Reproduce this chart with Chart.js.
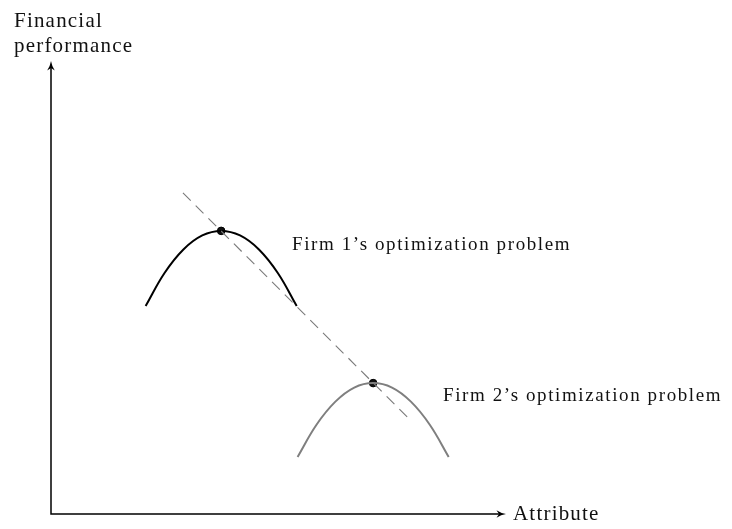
<!DOCTYPE html>
<html lang="en">
<head>
    <meta charset="UTF-8">
    <title>Firm optimization</title>
    <script src="https://cdn.jsdelivr.net/npm/chart.js@4.4.1/dist/chart.umd.min.js"></script>
    <style>
        html, body { margin: 0; padding: 0; background: #fff; }
        #wrap { width: 732px; height: 529px; }
    </style>
</head>
<body>
    <div id="wrap"><canvas id="myCanvas"></canvas></div>

    <script>
        // firm 1 curve (black)
        const firm1X = [20.8, 24.95, 29.1, 33.25, 37.4, 41.55, 45.7, 49.85, 54.0];
        const firm1Y = [45.9, 53.2, 58.4, 61.5, 62.5, 61.5, 58.4, 53.2, 45.9];
        // firm 2 curve (grey)
        const firm2X = [54.2, 58.35, 62.5, 66.65, 70.8, 74.95, 79.1, 83.25, 87.4];
        const firm2Y = [12.6, 19.7, 24.8, 27.9, 28.9, 27.9, 24.8, 19.7, 12.6];
        // dashed line through both optima
        const lineX = [29.0, 78.9];
        const lineY = [70.9, 20.8];
        // optimum points
        const optX = [37.4, 70.8];
        const optY = [62.5, 28.9];

        const labels = ['Financial', 'performance', 'Attribute',
                        'Firm 1\u2019s optimization problem', 'Firm 2\u2019s optimization problem'];

        const toPts = (xs, ys) => xs.map((x, i) => ({ x: x, y: ys[i] }));

        function arrowHead(c, x, y, dir) {
            // dir: 'up' or 'right'
            c.save();
            c.translate(x, y);
            if (dir === 'right') c.rotate(Math.PI / 2);
            c.beginPath();
            c.moveTo(0, 0);
            c.quadraticCurveTo(-0.8, 5, -3.8, 9.5);
            c.lineTo(0, 7);
            c.lineTo(3.8, 9.5);
            c.quadraticCurveTo(0.8, 5, 0, 0);
            c.closePath();
            c.fillStyle = '#000';
            c.fill();
            c.restore();
        }

        const axesPlugin = {
            id: 'axesPlugin',
            beforeDatasetsDraw(chart) {
                const c = chart.ctx;
                const xs = chart.scales.x, ys = chart.scales.y;
                const x0 = xs.getPixelForValue(0), x1 = xs.getPixelForValue(100);
                const y0 = ys.getPixelForValue(0), y1 = ys.getPixelForValue(100);
                c.save();
                c.strokeStyle = '#000';
                c.lineWidth = 1.5;
                c.beginPath();
                c.moveTo(x0, y1 + 6);
                c.lineTo(x0, y0);
                c.lineTo(x1 - 6, y0);
                c.stroke();
                c.restore();
                arrowHead(c, x0, y1, 'up');
                arrowHead(c, x1, y0, 'right');
            },
            afterDraw(chart) {
                const c = chart.ctx;
                c.save();
                c.fillStyle = '#111';
                c.textAlign = 'left';
                c.textBaseline = 'alphabetic';
                c.font = '21px "Liberation Serif"';
                c.letterSpacing = '1.2px';
                c.fillText(labels[0], 14, 27);
                c.fillText(labels[1], 14, 52);
                c.fillText(labels[2], 513, 520);
                c.font = '19px "Liberation Serif"';
                c.letterSpacing = '1.6px';
                c.fillText(labels[3], 292, 250);
                c.fillText(labels[4], 443, 401);
                c.restore();
            }
        };

        const ctx = document.getElementById('myCanvas').getContext('2d');
        const myChart = new Chart(ctx, {
            type: 'scatter',
            data: {
                datasets: [{
                    data: toPts(lineX, lineY),
                    showLine: true,
                    borderColor: '#7a7a7a',
                    borderWidth: 1.1,
                    borderDash: [11, 7],
                    pointRadius: 0
                }, {
                    data: toPts(firm1X, firm1Y),
                    showLine: true,
                    borderColor: '#000',
                    borderWidth: 2,
                    tension: 0.4,
                    pointRadius: 0
                }, {
                    data: toPts(firm2X, firm2Y),
                    showLine: true,
                    borderColor: '#7f7f7f',
                    borderWidth: 2,
                    tension: 0.4,
                    pointRadius: 0
                }, {
                    data: toPts(optX, optY),
                    showLine: false,
                    pointRadius: 3.8,
                    backgroundColor: '#111',
                    borderColor: '#000',
                    borderWidth: 1
                }]
            },
            options: {
                responsive: true,
                maintainAspectRatio: false,
                animation: false,
                layout: { padding: { left: 51, top: 61, right: 226, bottom: 15 } },
                plugins: { legend: { display: false }, tooltip: { enabled: false } },
                scales: {
                    x: { type: 'linear', min: 0, max: 100, display: false },
                    y: { type: 'linear', min: 0, max: 100, display: false }
                }
            },
            plugins: [axesPlugin]
        });
    </script>
</body>
</html>
